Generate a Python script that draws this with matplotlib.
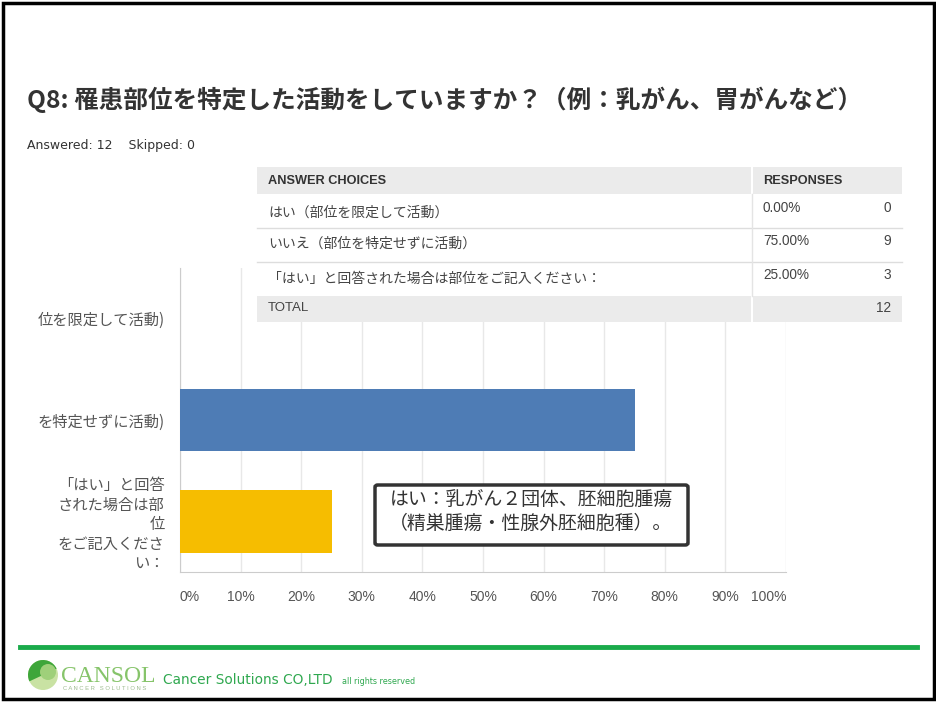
import matplotlib
matplotlib.use("Agg")
import matplotlib.pyplot as plt
from matplotlib.patches import Rectangle, FancyBboxPatch, Circle, Wedge
from matplotlib.lines import Line2D

JP = ["Noto Sans CJK JP", "DejaVu Sans"]
ARIAL = ["Liberation Sans", "DejaVu Sans"]

# data
title = "Q8: 罹患部位を特定した活動をしていますか？（例：乳がん、胃がんなど）"
answered = 12
skipped = 0
choices = ["はい（部位を限定して活動）",
           "いいえ（部位を特定せずに活動）",
           "「はい」と回答された場合は部位をご記入ください："]
percents = [0.0, 75.0, 25.0]
counts = [0, 9, 3]
total = 12
tick_labels = ["位を限定して活動)",
               "を特定せずに活動)",
               "「はい」と回答\nされた場合は部\n位\nをご記入くださ\nい："]
bar_colors = ["#4e7cb5", "#4e7cb5", "#f6bd00"]
x_ticks = [0, 10, 20, 30, 40, 50, 60, 70, 80, 90, 100]
note_lines = ["はい：乳がん２団体、胚細胞腫瘍", "（精巣腫瘍・性腺外胚細胞種）。"]

W, H = 937, 702


def fx(x):
    return x / W


def fy(y):
    return 1 - y / H


def rect(fig, x0, y0, x1, y1, **kw):
    fig.add_artist(Rectangle((fx(x0), fy(y1)), fx(x1) - fx(x0), fy(y0) - fy(y1),
                             transform=fig.transFigure, **kw))


def hline(fig, x0, x1, y, **kw):
    fig.add_artist(Line2D([fx(x0), fx(x1)], [fy(y), fy(y)], transform=fig.transFigure, **kw))


def vline(fig, x, y0, y1, **kw):
    fig.add_artist(Line2D([fx(x), fx(x)], [fy(y0), fy(y1)], transform=fig.transFigure, **kw))


fig = plt.figure(figsize=(W / 100, H / 100), dpi=100)
fig.patch.set_facecolor("white")

# chart
ax = fig.add_axes([fx(180), fy(572), fx(786) - fx(180), fy(268) - fy(572)])
ypos = list(range(len(percents)))
ax.barh(ypos, percents, height=0.62, color=bar_colors, zorder=3)
ax.set_xlim(0, 100)
ax.set_ylim(len(percents) - 0.5, -0.5)
ax.set_xticks(x_ticks)
ax.set_xticklabels([f"{t}%" for t in x_ticks], fontfamily=ARIAL, fontsize=10, color="#555555")
ax.set_yticks(ypos)
ax.set_yticklabels(tick_labels, fontfamily=JP, fontsize=11, color="#555555", linespacing=1.2)
ax.tick_params(axis="x", length=0, pad=13)
ax.tick_params(axis="y", length=0, pad=11)
labels = ax.get_xticklabels()
labels[0].set_ha("left")
labels[-1].set_ha("right")
ax.grid(axis="x", color="#e8e8e8", linewidth=1, zorder=0)
for s in ["top", "right"]:
    ax.spines[s].set_visible(False)
ax.spines["left"].set_color("#cccccc")
ax.spines["bottom"].set_color("#cccccc")

# title and summary
fig.text(fx(27), fy(100), title, fontsize=17.7, weight="bold", color="#333333",
         va="center", ha="left", fontfamily=JP)
fig.text(fx(27), fy(146), f"Answered: {answered}    Skipped: {skipped}", fontsize=9,
         color="#333333", va="center", ha="left", fontfamily=["DejaVu Sans"])

# table
tx0, tx1, tdiv = 257, 902, 752
rect(fig, tx0, 167, tx1, 322, facecolor="white", edgecolor="none", zorder=2)
rect(fig, tx0, 167, tdiv - 1, 194, facecolor="#ebebeb", edgecolor="none", zorder=3)
rect(fig, tdiv + 1, 167, tx1, 194, facecolor="#ebebeb", edgecolor="none", zorder=3)
rect(fig, tx0, 296, tdiv - 1, 322, facecolor="#ebebeb", edgecolor="none", zorder=3)
rect(fig, tdiv + 1, 296, tx1, 322, facecolor="#ebebeb", edgecolor="none", zorder=3)
for yy in [228, 262]:
    hline(fig, tx0, tx1, yy, color="#dddddd", linewidth=1, zorder=3)
vline(fig, tdiv, 194, 296, color="#e4e4e4", linewidth=1, zorder=3)

fig.text(fx(268), fy(181), "ANSWER CHOICES", fontsize=9.2, weight="bold", color="#333333",
         va="center", fontfamily=ARIAL, zorder=4)
fig.text(fx(763), fy(181), "RESPONSES", fontsize=9.2, weight="bold", color="#333333",
         va="center", fontfamily=ARIAL, zorder=4)
row_text_y = [213, 244, 279]
row_val_y = [208, 241, 275]
for name, p, c, ty, vy in zip(choices, percents, counts, row_text_y, row_val_y):
    fig.text(fx(268), fy(ty), name, fontsize=10, color="#444444", va="center",
             fontfamily=JP, zorder=4)
    fig.text(fx(763), fy(vy), f"{p:.2f}%", fontsize=9.8, color="#444444", va="center",
             fontfamily=ARIAL, zorder=4)
    fig.text(fx(891), fy(vy), str(c), fontsize=9.8, color="#444444", va="center",
             ha="right", fontfamily=ARIAL, zorder=4)
fig.text(fx(268), fy(308), "TOTAL", fontsize=9.5, color="#444444", va="center",
         fontfamily=ARIAL, zorder=4)
fig.text(fx(891), fy(308), str(total), fontsize=9.8, color="#444444", va="center",
         ha="right", fontfamily=ARIAL, zorder=4)

# note box
fig.add_artist(FancyBboxPatch((fx(375), fy(545)), fx(688) - fx(375), fy(485) - fy(545),
                              boxstyle="round,pad=0,rounding_size=0.003",
                              transform=fig.transFigure, facecolor="white",
                              edgecolor="#333333", linewidth=2.5, zorder=5))
fig.text(fx(531), fy(500), note_lines[0], fontsize=13.6, color="#333333", ha="center",
         va="center", fontfamily=JP, zorder=6)
fig.text(fx(531), fy(523), note_lines[1], fontsize=13.6, color="#333333", ha="center",
         va="center", fontfamily=JP, zorder=6)

# footer
hline(fig, 20, 917, 647, color="#1aab4b", linewidth=3.5, zorder=3)
inch = fig.dpi_scale_trans
fig.add_artist(Circle((43 / 100, (H - 675) / 100), 0.15, transform=inch,
                      facecolor="#c9e2a3", edgecolor="none", zorder=3))
fig.add_artist(Wedge((43 / 100, (H - 675) / 100), 0.15, 25, 205, transform=inch,
                     facecolor="#3ea63a", edgecolor="none", zorder=4))
fig.add_artist(Circle((48 / 100, (H - 672) / 100), 0.08, transform=inch,
                      facecolor="#9fd07a", edgecolor="none", zorder=5))
fig.text(fx(61), fy(676), "CANSOL", fontsize=17, color="#86c46a", va="center",
         fontfamily=["Liberation Serif", "DejaVu Serif"])
fig.text(fx(63), fy(689), "C A N C E R   S O L U T I O N S", fontsize=4.2, color="#9dbb8f",
         va="center", fontfamily=ARIAL)
fig.text(fx(163), fy(680), "Cancer Solutions CO,LTD", fontsize=9.9, color="#2fa84f",
         va="center", fontfamily=["DejaVu Sans"])
fig.text(fx(342), fy(682), "all rights reserved", fontsize=5.8, color="#2fa84f",
         va="center", fontfamily=["DejaVu Sans"])

# slide border
fig.add_artist(Rectangle((fx(3), fy(699)), fx(934) - fx(3), fy(3) - fy(699),
                         transform=fig.transFigure, facecolor="none",
                         edgecolor="black", linewidth=2.5, zorder=10))

fig.savefig("out.png", dpi=100)
